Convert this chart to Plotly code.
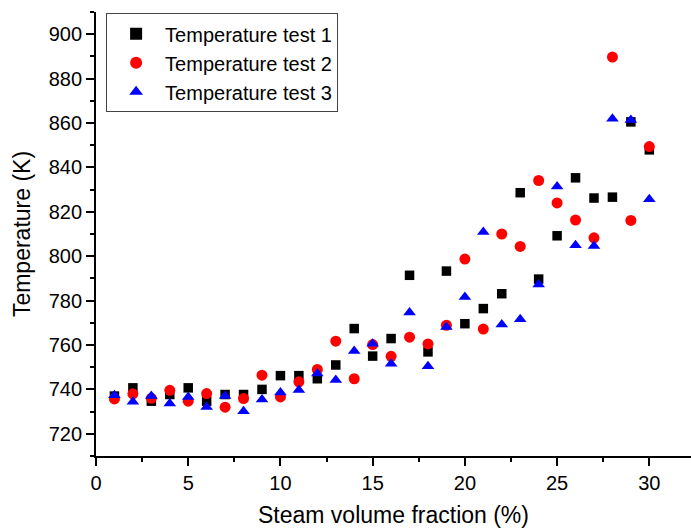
import plotly.graph_objects as go

steam_fraction = list(range(1, 31))

temp_test1 = [737.0, 740.7, 734.7, 737.7, 740.7, 734.7, 737.7, 737.7, 740.0, 746.2,
              746.2, 744.8, 751.0, 767.4, 755.0, 762.9, 791.4, 756.9, 793.3, 769.6,
              776.4, 783.1, 828.6, 789.7, 809.2, 835.3, 826.2, 826.6, 860.5, 847.9]

temp_test2 = [735.7, 738.0, 736.0, 739.6, 734.7, 738.1, 732.0, 735.9, 746.4, 736.6,
              743.4, 749.0, 761.7, 744.8, 760.2, 754.9, 763.5, 760.5, 768.9, 798.7,
              767.2, 810.0, 804.4, 834.1, 824.0, 816.3, 808.3, 889.7, 816.1, 849.4]

temp_test3 = [737.4, 734.4, 737.0, 733.7, 736.6, 732.1, 737.0, 730.2, 735.5, 738.6,
              739.7, 747.2, 744.2, 757.3, 760.6, 751.6, 774.6, 750.4, 768.1, 781.6,
              810.9, 769.2, 771.6, 787.3, 831.4, 804.9, 804.6, 861.9, 861.4, 825.6]

series_names = ["Temperature test 1", "Temperature test 2", "Temperature test 3"]
x_title = "Steam volume fraction (%)"
y_title = "Temperature (K)"

FONT = "Liberation Sans, Arial, sans-serif"

fig = go.Figure()
fig.add_trace(go.Scatter(x=steam_fraction, y=temp_test1, mode="markers", name=series_names[0],
                         marker=dict(symbol="square", size=9.5, color="#000000")))
fig.add_trace(go.Scatter(x=steam_fraction, y=temp_test2, mode="markers", name=series_names[1],
                         marker=dict(symbol="circle", size=11, color="#FF0000")))
fig.add_trace(go.Scatter(x=steam_fraction, y=temp_test3, mode="markers", name=series_names[2],
                         marker=dict(symbol="triangle-up", size=11, color="#0000FF")))

axis_common = dict(
    showgrid=False, zeroline=False, showline=True, linecolor="#000000", linewidth=1.8,
    ticks="outside", ticklen=8, tickwidth=1.5, tickcolor="#000000",
    tickfont=dict(family=FONT, size=20, color="#000000"),
)

fig.update_xaxes(
    range=[0, 32.26], tick0=0, dtick=5,
    minor=dict(dtick=2.5, ticks="outside", ticklen=4, tickwidth=1.5, tickcolor="#000000"),
    title=dict(text=x_title, font=dict(family=FONT, size=23, color="#000000"), standoff=16),
    **axis_common,
)
fig.update_yaxes(
    range=[710, 910], tick0=720, dtick=20,
    minor=dict(dtick=10, ticks="outside", ticklen=4, tickwidth=1.5, tickcolor="#000000"),
    title=dict(text=y_title, font=dict(family=FONT, size=23, color="#000000"), standoff=12),
    **axis_common,
)

fig.update_layout(
    width=691, height=528,
    margin=dict(l=96, r=0, t=12, b=72),
    plot_bgcolor="#FFFFFF", paper_bgcolor="#FFFFFF",
    legend=dict(
        x=0.017, y=0.997, xanchor="left", yanchor="top",
        bordercolor="#444444", borderwidth=1, bgcolor="#FFFFFF",
        font=dict(family=FONT, size=20, color="#000000"),
        itemsizing="constant", itemwidth=48,
    ),
    showlegend=True,
)

fig.write_html("out.html")
